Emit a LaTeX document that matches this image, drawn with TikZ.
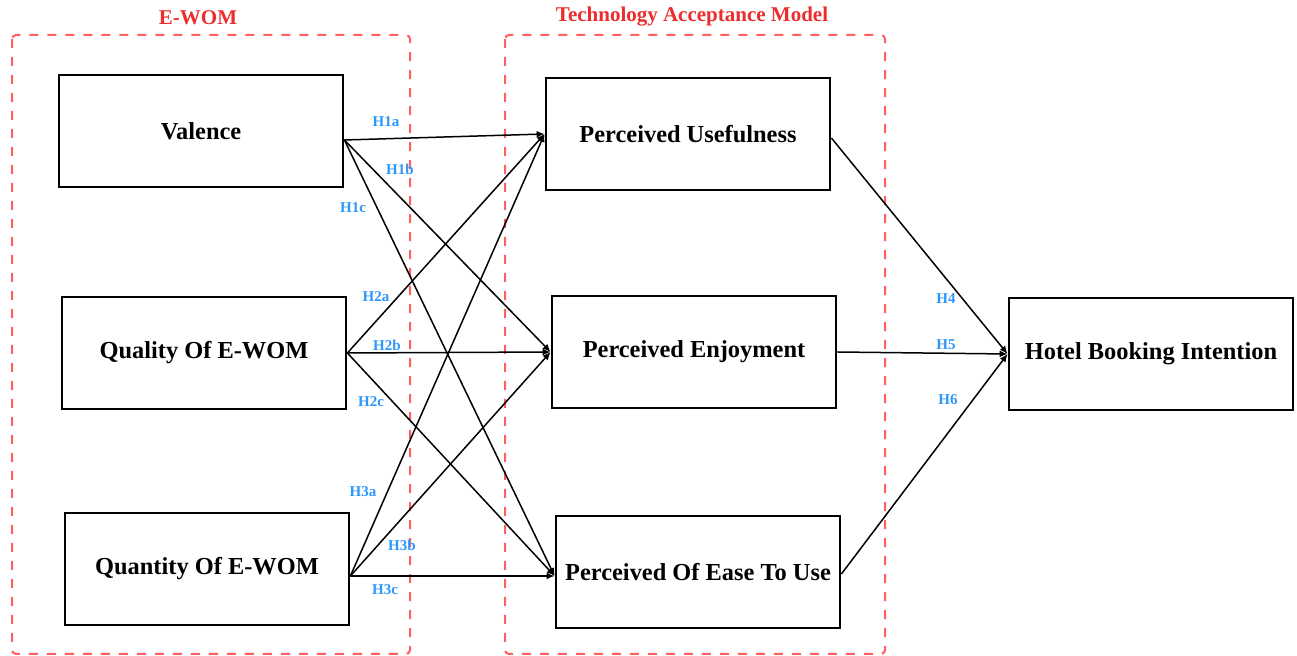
\documentclass[tikz,border=0pt]{standalone}
\usepackage{fontspec}
\setmainfont{Liberation Serif}
\usetikzlibrary{arrows.meta}
\definecolor{hblue}{RGB}{45,150,250}
\definecolor{tred}{RGB}{235,45,45}
\definecolor{dred}{RGB}{255,95,95}
\begin{document}
\begin{tikzpicture}[x=0.5pt,y=-0.5pt]
		\tikzstyle{construct}=[draw,line width=1.4pt,minimum width=142pt,minimum height=56pt,inner sep=0pt,font=\bfseries\fontsize{12.2}{14}\selectfont]
		\tikzstyle{group}=[dred,line width=1pt,dash pattern=on 4.5pt off 4.5pt,rounded corners=2pt]
		\tikzstyle{grouplabel}=[tred,font=\bfseries\fontsize{10.5}{12}\selectfont]
		\tikzstyle{hyp}=[hblue,font=\bfseries\fontsize{7.5}{9}\selectfont,inner sep=0pt]
		\tikzstyle{myarrow}=[line width=0.75pt,-{Latex[length=4pt,width=3.5pt]}]
		\useasboundingbox (0,0) rectangle (1297,656);

		% groups
		\draw[group] (12,35) rectangle (410,654);
		\draw[group] (505,35) rectangle (885,654);
		\node[grouplabel] (ewomlbl) at (198,18) {E-WOM};
		\node[grouplabel] (tamlbl) at (692,17) {Technology Acceptance Model};

		% constructs
		\node[construct] (val) at (201,131) {Valence};
		\node[construct] (qual) at (204,353) {Quality Of E-WOM};
		\node[construct] (quan) at (207,569) {Quantity Of E-WOM};
		\node[construct] (pu) at (688,134) {Perceived Usefulness};
		\node[construct] (pe) at (694,352) {Perceived Enjoyment};
		\node[construct] (peou) at (698,572) {Perceived Of Ease To Use};
		\node[construct] (hbi) at (1151,354) {Hotel Booking Intention};

		\foreach \s / \o in {val/-4.5,qual/0,quan/-3.5} {
			\foreach \t / \p in {pu/0,pe/0,peou/-2} { \draw[myarrow] ([yshift=\o pt]\s.east) -- ([yshift=\p pt]\t.west);}
		}
		\foreach \s / \o in {pu/-2,pe/0,peou/-1} { \draw[myarrow] ([yshift=\o pt]\s.east) -- (hbi.west);}

		% hypothesis labels
		\foreach \n / \x / \y in {H1a/386/122,H1b/400/169,H1c/353/208,H2a/376/297,H2b/387/345,H2c/371/402,H3a/363/492,H3b/402/545,H3c/385/590,H4/946/299,H5/946/345,H6/948/400} {
			\node[hyp] (l\n) at (\x,\y) {\n};
		}
\end{tikzpicture}
\end{document}
